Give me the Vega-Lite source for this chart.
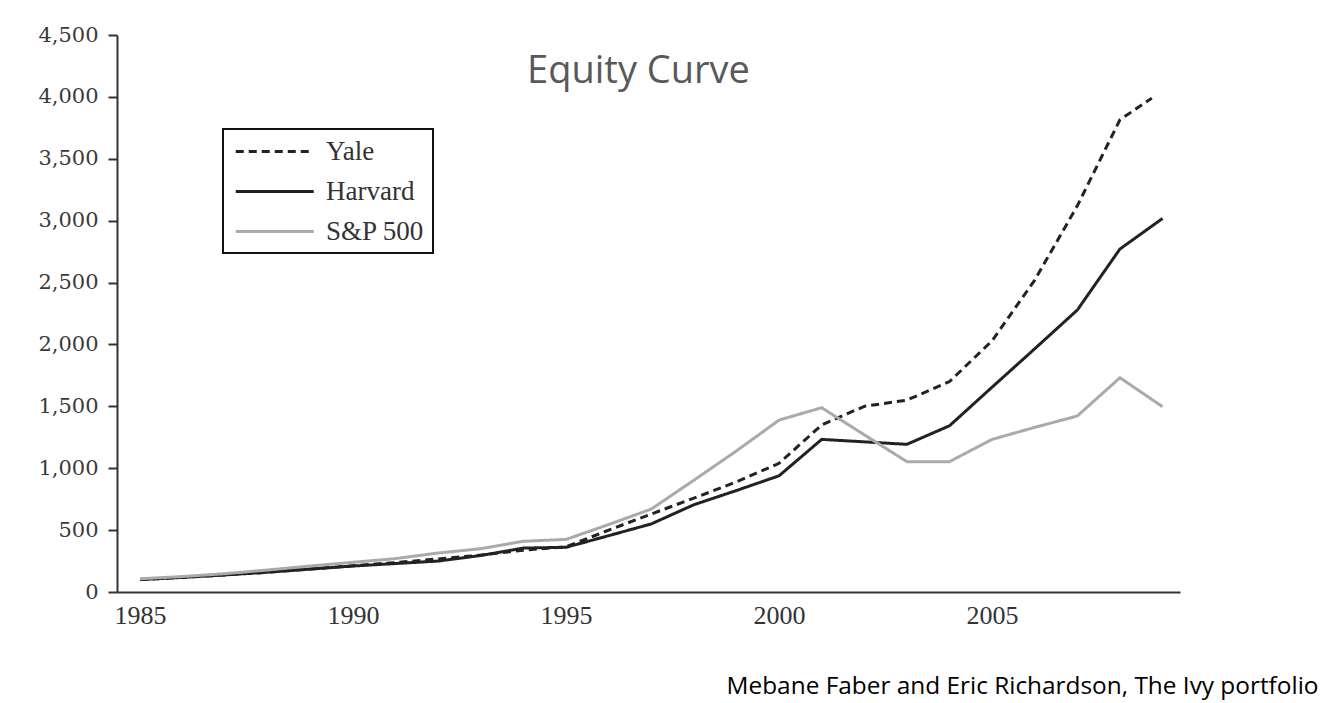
{
  "$schema": "https://vega.github.io/schema/vega-lite/v6.json",
  "width": 1063,
  "height": 557,
  "autosize": "none",
  "padding": {"left": 117, "top": 35, "right": 163, "bottom": 111},
  "background": "white",
  "title": {
    "text": "Equity Curve",
    "orient": "top",
    "anchor": "middle",
    "offset": -67,
    "dx": -10,
    "font": "Open Sans",
    "fontSize": 38,
    "fontWeight": "normal",
    "color": "#595959",
    "baseline": "top"
  },
  "config": {
    "view": {"stroke": null},
    "axis": {"grid": false}
  },
  "data": {
    "values": [
      {"year": 1985, "series": "Yale", "value": 100},
      {"year": 1986, "series": "Yale", "value": 118},
      {"year": 1987, "series": "Yale", "value": 138},
      {"year": 1988, "series": "Yale", "value": 160},
      {"year": 1989, "series": "Yale", "value": 186},
      {"year": 1990, "series": "Yale", "value": 212},
      {"year": 1991, "series": "Yale", "value": 238},
      {"year": 1992, "series": "Yale", "value": 267},
      {"year": 1993, "series": "Yale", "value": 298},
      {"year": 1994, "series": "Yale", "value": 338},
      {"year": 1995, "series": "Yale", "value": 365},
      {"year": 1996, "series": "Yale", "value": 500},
      {"year": 1997, "series": "Yale", "value": 630},
      {"year": 1998, "series": "Yale", "value": 758},
      {"year": 1999, "series": "Yale", "value": 890},
      {"year": 2000, "series": "Yale", "value": 1040},
      {"year": 2001, "series": "Yale", "value": 1350},
      {"year": 2002, "series": "Yale", "value": 1500},
      {"year": 2003, "series": "Yale", "value": 1550},
      {"year": 2004, "series": "Yale", "value": 1700},
      {"year": 2005, "series": "Yale", "value": 2030},
      {"year": 2006, "series": "Yale", "value": 2520},
      {"year": 2007, "series": "Yale", "value": 3120},
      {"year": 2008, "series": "Yale", "value": 3815},
      {"year": 2008.75, "series": "Yale", "value": 3990},
      {"year": 1985, "series": "Harvard", "value": 100},
      {"year": 1986, "series": "Harvard", "value": 118},
      {"year": 1987, "series": "Harvard", "value": 138},
      {"year": 1988, "series": "Harvard", "value": 160},
      {"year": 1989, "series": "Harvard", "value": 185},
      {"year": 1990, "series": "Harvard", "value": 210},
      {"year": 1991, "series": "Harvard", "value": 230},
      {"year": 1992, "series": "Harvard", "value": 250},
      {"year": 1993, "series": "Harvard", "value": 295},
      {"year": 1994, "series": "Harvard", "value": 355},
      {"year": 1995, "series": "Harvard", "value": 361},
      {"year": 1996, "series": "Harvard", "value": 455},
      {"year": 1997, "series": "Harvard", "value": 550},
      {"year": 1998, "series": "Harvard", "value": 705},
      {"year": 1999, "series": "Harvard", "value": 820},
      {"year": 2000, "series": "Harvard", "value": 939},
      {"year": 2001, "series": "Harvard", "value": 1233},
      {"year": 2002, "series": "Harvard", "value": 1213},
      {"year": 2003, "series": "Harvard", "value": 1193},
      {"year": 2004, "series": "Harvard", "value": 1343},
      {"year": 2005, "series": "Harvard", "value": 1655},
      {"year": 2006, "series": "Harvard", "value": 1965},
      {"year": 2007, "series": "Harvard", "value": 2278},
      {"year": 2008, "series": "Harvard", "value": 2771},
      {"year": 2009, "series": "Harvard", "value": 3018},
      {"year": 1985, "series": "S&P 500", "value": 107},
      {"year": 1986, "series": "S&P 500", "value": 125},
      {"year": 1987, "series": "S&P 500", "value": 148},
      {"year": 1988, "series": "S&P 500", "value": 178},
      {"year": 1989, "series": "S&P 500", "value": 210},
      {"year": 1990, "series": "S&P 500", "value": 240},
      {"year": 1991, "series": "S&P 500", "value": 270},
      {"year": 1992, "series": "S&P 500", "value": 315},
      {"year": 1993, "series": "S&P 500", "value": 350},
      {"year": 1994, "series": "S&P 500", "value": 410},
      {"year": 1995, "series": "S&P 500", "value": 425},
      {"year": 1996, "series": "S&P 500", "value": 545},
      {"year": 1997, "series": "S&P 500", "value": 670},
      {"year": 1998, "series": "S&P 500", "value": 903},
      {"year": 1999, "series": "S&P 500", "value": 1140},
      {"year": 2000, "series": "S&P 500", "value": 1389},
      {"year": 2001, "series": "S&P 500", "value": 1489},
      {"year": 2002, "series": "S&P 500", "value": 1270},
      {"year": 2003, "series": "S&P 500", "value": 1053},
      {"year": 2004, "series": "S&P 500", "value": 1053},
      {"year": 2005, "series": "S&P 500", "value": 1233},
      {"year": 2006, "series": "S&P 500", "value": 1330},
      {"year": 2007, "series": "S&P 500", "value": 1422},
      {"year": 2008, "series": "S&P 500", "value": 1731},
      {"year": 2009, "series": "S&P 500", "value": 1497}
    ]
  },
  "mark": {"type": "line", "strokeWidth": 3},
  "encoding": {
    "x": {
      "field": "year",
      "type": "quantitative",
      "scale": {"domain": [1984.46, 2009.41], "nice": false, "zero": false},
      "axis": {
        "values": [1985, 1990, 1995, 2000, 2005],
        "format": "d",
        "ticks": false,
        "labelPadding": 10,
        "labelFont": "Liberation Serif",
        "labelFontSize": 26,
        "labelColor": "#333333",
        "domainColor": "#333333",
        "domainWidth": 2,
        "title": "Mebane Faber and Eric Richardson, The Ivy portfolio",
        "titleFont": "Open Sans",
        "titleFontSize": 24.4,
        "titleFontWeight": "normal",
        "titleColor": "#000000",
        "titleAnchor": "end",
        "titleAlign": "right",
        "titleBaseline": "middle",
        "titleX": 1201,
        "titleY": 94
      }
    },
    "y": {
      "field": "value",
      "type": "quantitative",
      "scale": {"domain": [0, 4500], "nice": false},
      "axis": {
        "values": [0, 500, 1000, 1500, 2000, 2500, 3000, 3500, 4000, 4500],
        "format": ",d",
        "tickSize": 9,
        "tickWidth": 2,
        "tickColor": "#333333",
        "labelPadding": 10,
        "labelFont": "DejaVu Serif",
        "labelFontSize": 21,
        "labelColor": "#3a3a3a",
        "domainColor": "#333333",
        "domainWidth": 2,
        "title": null
      }
    },
    "color": {
      "field": "series",
      "type": "nominal",
      "scale": {"domain": ["Yale", "Harvard", "S&P 500"], "range": ["#222222", "#222222", "#aaaaaa"]},
      "legend": {
        "title": null,
        "orient": "none",
        "legendX": 106,
        "legendY": 94,
        "symbolType": "M-0.75,0H5.25",
        "symbolSize": 676,
        "symbolStrokeWidth": 3,
        "labelFont": "Liberation Serif",
        "labelFontSize": 27,
        "labelColor": "#333333",
        "labelOffset": 66,
        "rowPadding": 12,
        "padding": 8,
        "strokeColor": "#111111",
        "encode": {"legend": {"update": {"strokeWidth": {"value": 2}}}}
      }
    },
    "strokeDash": {
      "field": "series",
      "type": "nominal",
      "scale": {"domain": ["Yale", "Harvard", "S&P 500"], "range": [[8, 5], [1, 0], [1, 0]]},
      "legend": {
        "title": null,
        "orient": "none",
        "legendX": 106,
        "legendY": 94,
        "symbolType": "M-0.75,0H5.25",
        "symbolSize": 676,
        "symbolStrokeWidth": 3,
        "labelFont": "Liberation Serif",
        "labelFontSize": 27,
        "labelColor": "#333333",
        "labelOffset": 66,
        "rowPadding": 12,
        "padding": 8,
        "strokeColor": "#111111",
        "encode": {"legend": {"update": {"strokeWidth": {"value": 2}}}}
      }
    }
  }
}
